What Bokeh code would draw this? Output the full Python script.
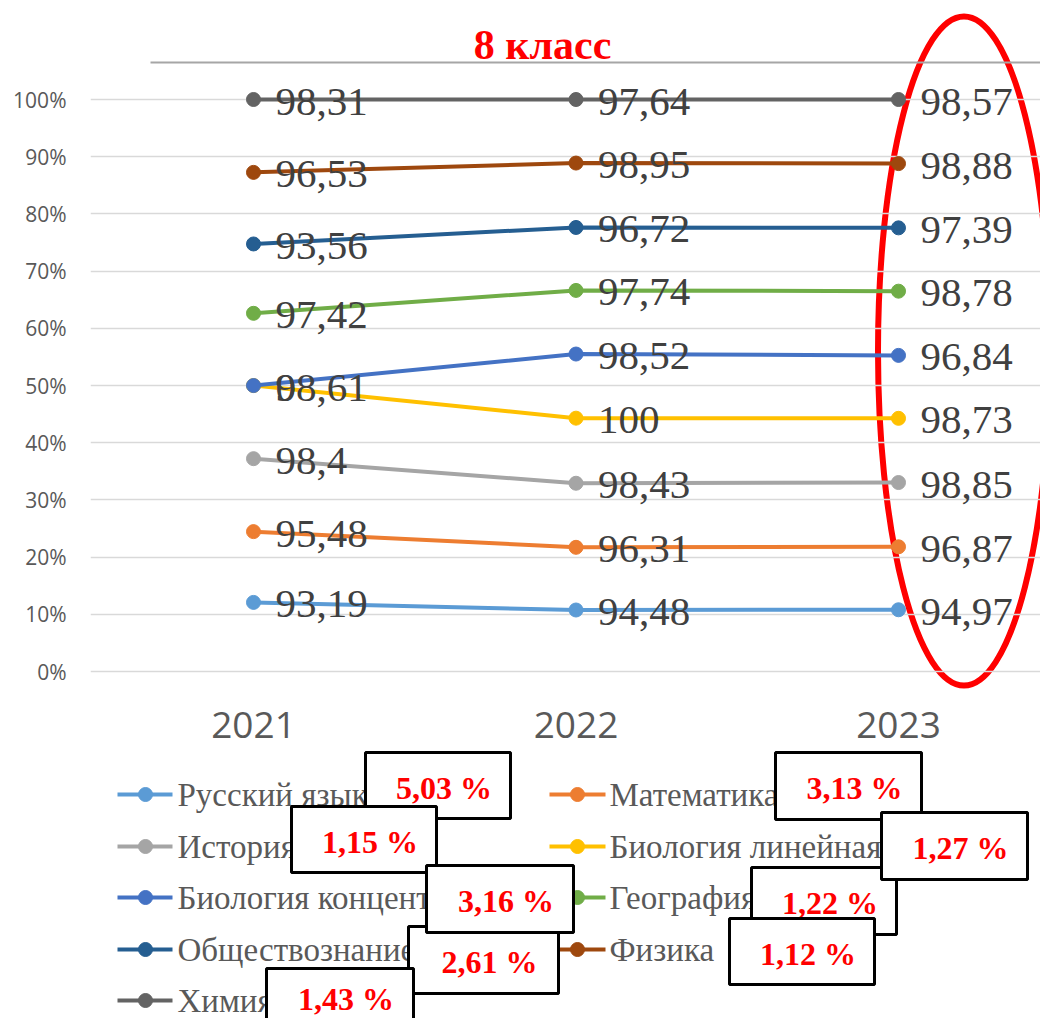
from bokeh.plotting import figure
from bokeh.layouts import column
from bokeh.models import Range1d, FixedTicker, Label
from bokeh.core.properties import value
from bokeh.embed import file_html
from bokeh.resources import INLINE

# ---------------- data ----------------
years = ["2021", "2022", "2023"]
subjects = ["Русский язык", "Математика", "История", "Биология линейная",
            "Биология концентрическая", "География", "Обществознание", "Физика", "Химия"]
russian = [93.19, 94.48, 94.97]
mathematics = [95.48, 96.31, 96.87]
history = [98.4, 98.43, 98.85]
bio_linear = [98.61, 100, 98.73]
bio_concentric = [0, 98.52, 96.84]
geography = [97.42, 97.74, 98.78]
social = [93.56, 96.72, 97.39]
physics = [96.53, 98.95, 98.88]
chemistry = [98.31, 97.64, 98.57]
series = [russian, mathematics, history, bio_linear, bio_concentric,
          geography, social, physics, chemistry]
change_labels = ["5,03 %", "3,13 %", "1,15 %", "1,27 %", "3,16 %",
                 "1,22 %", "2,61 %", "1,12 %", "1,43 %"]
y_ticks = [0, 0.1, 0.2, 0.3, 0.4, 0.5, 0.6, 0.7, 0.8, 0.9, 1.0]
y_tick_labels = ["0%", "10%", "20%", "30%", "40%", "50%", "60%", "70%", "80%", "90%", "100%"]
title_text = "8 класс"

# ---------------- styles ----------------
colors = ["#5B9BD5", "#ED7D31", "#A5A5A5", "#FFC000", "#4472C4",
          "#70AD47", "#255E91", "#9E480E", "#636363"]

# layout geometry (pixels)
W = 1040
H = 1018
PX_X = 322.5   # px per category
PX_Y = 572.0   # px per 100 %
REF_X0 = 253   # px of first category
REF_Y0 = 671   # px of 0 %
FR_L, FR_R, FR_T, FR_B = 90, W, 0, 691
T2 = 750       # split between chart and legend panels


def fx(rx):
    return (rx - REF_X0) / PX_X


def fy(ry):
    return (REF_Y0 - ry) / PX_Y


# ---------------- stacked (100 %) values ----------------
n = len(years)
totals = [sum(s[j] for s in series) for j in range(n)]
cum = []
run = [0.0] * n
for s in series:
    run = [run[j] + s[j] / totals[j] for j in range(n)]
    cum.append(run)

xs = list(range(n))


def fmt(v):
    return f"{v:g}".replace(".", ",")


# ---------------- chart figure ----------------
H1 = T2
p1 = figure(width=W, height=H1,
            x_range=Range1d(fx(FR_L), fx(FR_R)),
            y_range=Range1d(fy(FR_B), fy(FR_T)),
            output_backend="svg", toolbar_location=None,
            min_border_left=FR_L, min_border_right=0,
            min_border_top=0, min_border_bottom=H1 - FR_B,
            outline_line_color=None, background_fill_color="white",
            border_fill_color="white")

# red ellipse highlighting 2023 (below chart)
p1.ellipse(x=[fx(963.5)], y=[fy(350.5)], width=172, height=669,
           width_units="screen", height_units="screen",
           fill_color=None, line_color="#FF0000", line_width=6, level="image")

# slide separator line + title
p1.segment(x0=[fx(150)], y0=[fy(62)], x1=[fx(1060)], y1=[fy(62)],
           line_color="#A6A6A6", line_width=2)
p1.add_layout(Label(x=fx(542), y=fy(44), text=title_text, text_align="center",
                    text_baseline="middle", text_font="Liberation Serif",
                    text_font_style="bold", text_font_size="42px", text_color="#FF0000"))

for i, s in enumerate(series):
    p1.line(xs, cum[i], line_color=colors[i], line_width=4)
    p1.scatter(xs, cum[i], size=14, color=colors[i])

for i, s in enumerate(series):
    p1.text(xs, cum[i], text=[fmt(v) for v in s], x_offset=22, y_offset=2,
            text_align="left", text_baseline="middle",
            text_font=value("Liberation Serif"), text_font_size="41px",
            text_color="#404040")

p1.xaxis.ticker = FixedTicker(ticks=xs)
p1.xaxis.major_label_overrides = {i: y for i, y in enumerate(years)}
p1.xaxis.axis_line_color = None
p1.xaxis.major_tick_line_color = None
p1.xaxis.minor_tick_line_color = None
p1.xaxis.major_label_standoff = 14
p1.xaxis.major_label_text_font = "Open Sans"
p1.xaxis.major_label_text_font_size = "37px"
p1.xaxis.major_label_text_color = "#595959"

p1.yaxis.ticker = FixedTicker(ticks=y_ticks)
p1.yaxis.major_label_overrides = {t: l for t, l in zip(y_ticks, y_tick_labels)}
p1.yaxis.axis_line_color = None
p1.yaxis.major_tick_line_color = None
p1.yaxis.minor_tick_line_color = None
p1.yaxis.major_label_standoff = 18
p1.yaxis.major_label_text_font = "Open Sans"
p1.yaxis.major_label_text_font_size = "21px"
p1.yaxis.major_label_text_color = "#595959"

p1.xgrid.visible = False
p1.ygrid.grid_line_color = "#D9D9D9"
p1.ygrid.grid_line_width = 1.5

# ---------------- legend + annotation boxes figure ----------------
H2 = H - T2
p2 = figure(width=W, height=H2, x_range=Range1d(FR_L, W), y_range=Range1d(H, T2),
            output_backend="svg", toolbar_location=None,
            min_border_left=FR_L, min_border_right=0, min_border_top=0,
            min_border_bottom=0,
            x_axis_type=None, y_axis_type=None, outline_line_color=None,
            background_fill_color="white", border_fill_color="white")

leg_cols = [(117, 172, 145, 177), (549, 605, 577, 609)]
leg_rows = [794, 846, 897, 949, 1000]
for i, name in enumerate(subjects):
    l0, l1, mk, tx = leg_cols[i % 2]
    ry = leg_rows[i // 2]
    p2.segment(x0=[l0], y0=[ry], x1=[l1], y1=[ry], line_color=colors[i], line_width=4)
    p2.scatter([mk], [ry], size=14, color=colors[i])
    p2.text([tx], [ry], text=[name], text_align="left", text_baseline="middle",
            text_font=value("Liberation Serif"), text_font_size="33px",
            text_color="#595959")

# boxes (left, top, right, bottom) in px, per subject
boxes = [(365, 752, 510, 818), (775, 752, 921, 819), (291, 806, 436, 872),
         (881, 812, 1027, 879), (426, 865, 573, 932), (751, 867, 896, 934),
         (408, 926, 558, 993), (729, 918, 874, 984), (266, 968, 413, 1036)]
draw_order = [0, 2, 6, 4, 8, 1, 5, 3, 7]
for k in draw_order:
    l, t, r, b = boxes[k]
    ty = min((t + b) / 2 + 2, H - 20)
    p2.quad(left=[l], right=[r], top=[t], bottom=[b], fill_color="white",
            line_color="black", line_width=3)
    p2.text([(l + r) / 2 + 6], [ty], text=[change_labels[k]],
            text_align="center", text_baseline="middle",
            text_font=value("Liberation Serif"), text_font_style="bold",
            text_font_size="32px", text_color="#FF0000")

layout = column(p1, p2, spacing=0)
open("out.html", "w").write(file_html(layout, INLINE))
